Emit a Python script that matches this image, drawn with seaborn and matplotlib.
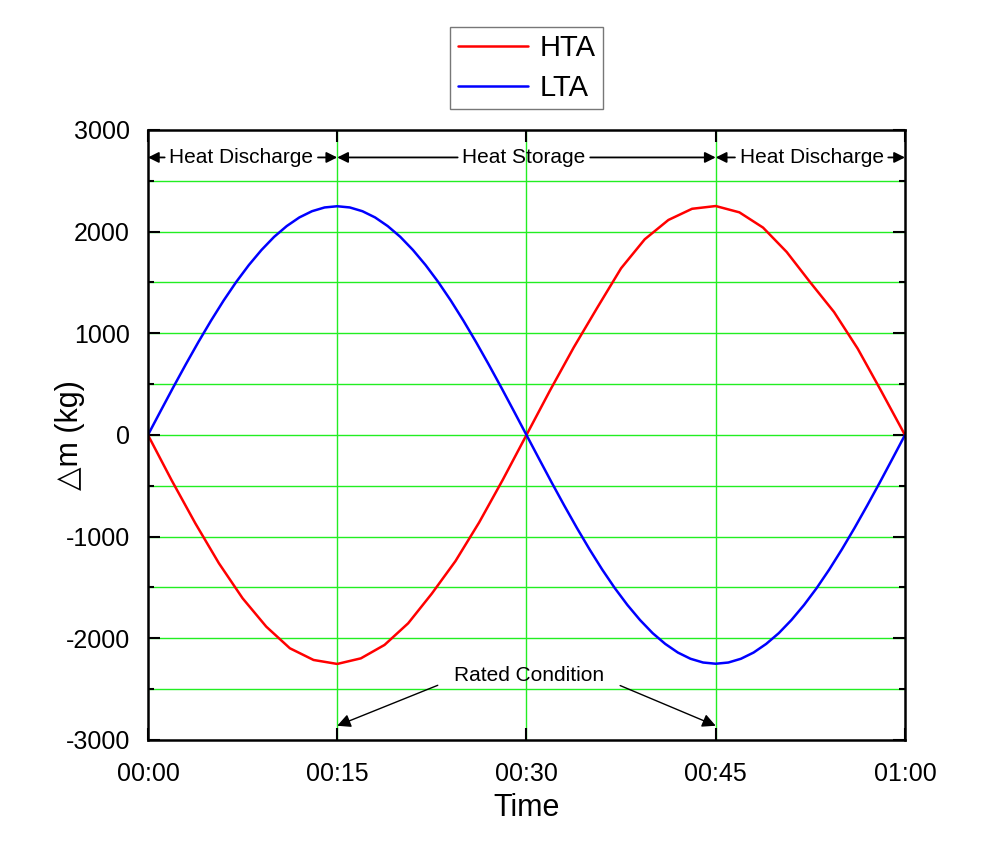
import matplotlib
matplotlib.use("Agg")
import matplotlib.pyplot as plt
import seaborn as sns
import pandas as pd
from matplotlib.ticker import MultipleLocator, FixedLocator

# ---- data ----
hta_time = [0, 1.875, 3.75, 5.625, 7.5, 9.375, 11.25, 13.125, 15, 16.875, 18.75, 20.625,
            22.5, 24.375, 26.25, 28.125, 30, 31.875, 33.75, 35.625, 37.5, 39.375, 41.25,
            43.125, 45, 46.875, 48.75, 50.625, 52.5, 54.375, 56.25, 58.125, 60]
hta_dm = [0, -445, -868, -1262, -1606, -1885, -2098, -2213, -2252, -2197, -2065, -1852,
          -1560, -1240, -860, -440, 0, 440, 862, 1255, 1640, 1925, 2115, 2225, 2252,
          2190, 2040, 1800, 1500, 1210, 850, 430, 0]

lta_time = list(range(0, 61))
lta_dm = [0, 235, 468, 695, 915, 1125, 1323, 1506, 1672, 1820, 1949, 2055, 2140, 2201, 2238,
          2250, 2238, 2201, 2140, 2055, 1949, 1820, 1672, 1506, 1323, 1125, 915, 695, 468, 235,
          0, -235, -468, -695, -915, -1125, -1323, -1506, -1672, -1820, -1949, -2055, -2140,
          -2201, -2238, -2250, -2238, -2201, -2140, -2055, -1949, -1820, -1672, -1506, -1323,
          -1125, -915, -695, -468, -235, 0]

x_ticks = [0, 15, 30, 45, 60]
x_tick_labels = ["00:00", "00:15", "00:30", "00:45", "01:00"]
y_ticks = [-3000, -2000, -1000, 0, 1000, 2000, 3000]

series_names = ["HTA", "LTA"]
series_colors = ["#ff0000", "#0000ff"]

df = pd.concat([
    pd.DataFrame({"t": hta_time, "dm": hta_dm, "series": "HTA"}),
    pd.DataFrame({"t": lta_time, "dm": lta_dm, "series": "LTA"}),
], ignore_index=True)

sns.set_theme(style="white")
plt.rcParams["font.family"] = ["Liberation Sans", "DejaVu Sans"]
plt.rcParams["axes.unicode_minus"] = False
plt.rcParams["text.color"] = "black"
plt.rcParams["axes.labelcolor"] = "black"
plt.rcParams["xtick.color"] = "black"
plt.rcParams["ytick.color"] = "black"

fig = plt.figure(figsize=(9.97, 8.43), dpi=100)
ax = fig.add_axes([0.1484, 0.1222, 0.7593, 0.7236])

sns.lineplot(data=df, x="t", y="dm", hue="series", hue_order=series_names,
             palette=series_colors, linewidth=1.8, ax=ax, sort=False, estimator=None)

ax.set_xlim(0, 60)
ax.set_ylim(-3000, 3000)
ax.xaxis.set_major_locator(FixedLocator(x_ticks))
ax.set_xticklabels(x_tick_labels)
ax.yaxis.set_major_locator(FixedLocator(y_ticks))
ax.yaxis.set_minor_locator(MultipleLocator(500))

# green grid
for yv in range(-2500, 3000, 500):
    ax.axhline(yv, color="#22ee22", lw=1.0, zorder=0)
for xv in [15, 30, 45]:
    ax.axvline(xv, color="#22ee22", lw=1.0, zorder=0)

for s in ax.spines.values():
    s.set_visible(True)
    s.set_color("black")
    s.set_linewidth(1.8)

ax.tick_params(axis="y", which="major", direction="in", length=8.5, width=1.5,
               left=True, right=True, labelsize=18, colors="black", pad=13)
ax.tick_params(axis="x", which="major", direction="in", length=8.5, width=1.5,
               bottom=True, top=True, labelsize=18, colors="black", pad=16)
ax.tick_params(axis="y", which="minor", direction="in", length=4, width=1.5,
               left=True, right=True)
ax.tick_params(axis="x", which="minor", bottom=False, top=False)

ax.set_xlabel("Time", fontsize=22, labelpad=5)
ax.set_ylabel("\u25b3m (kg)", fontsize=22)
ax.yaxis.set_label_coords(-0.083, 0.5)

leg = ax.legend(loc="lower center", bbox_to_anchor=(0.5, 1.01), fontsize=21,
                frameon=True, fancybox=False, handlelength=2.4, handletextpad=0.4,
                borderpad=0.25, labelspacing=0.4, edgecolor="#555555")
leg.get_frame().set_linewidth(1.0)
for line in leg.get_lines():
    line.set_linewidth(1.8)
for t in leg.get_texts():
    t.set_color("black")

# annotations
ay = 2730
ann_fs = 15
arrow = dict(arrowstyle="-|>", color="black", lw=1.3, mutation_scale=16, shrinkA=1, shrinkB=0)

def span(label, x0, x1, xc):
    ax.annotate(label, xy=(x0, ay), xytext=(xc, ay), ha="center", va="center",
                fontsize=ann_fs, color="black", arrowprops=arrow, annotation_clip=False)
    ax.annotate(label, xy=(x1, ay), xytext=(xc, ay), ha="center", va="center",
                fontsize=ann_fs, color="none", arrowprops=arrow, annotation_clip=False)

span("Heat Discharge", 0, 15, 7.4)
span("Heat Storage", 15, 45, 29.8)
span("Heat Discharge", 45, 60, 52.6)

rc_left = dict(arrowstyle="-|>", color="black", lw=1.0, mutation_scale=20,
               shrinkA=10, shrinkB=0, relpos=(0.0, 0.35))
rc_right = dict(arrowstyle="-|>", color="black", lw=1.0, mutation_scale=20,
                shrinkA=10, shrinkB=0, relpos=(1.0, 0.35))
ax.annotate("Rated Condition", xy=(15, -2860), xytext=(30.2, -2370), ha="center", va="center",
            fontsize=ann_fs, color="black", arrowprops=rc_left)
ax.annotate("Rated Condition", xy=(45, -2860), xytext=(30.2, -2370), ha="center", va="center",
            fontsize=ann_fs, color="none", arrowprops=rc_right)

fig.savefig("out.png", dpi=100, facecolor="white")
